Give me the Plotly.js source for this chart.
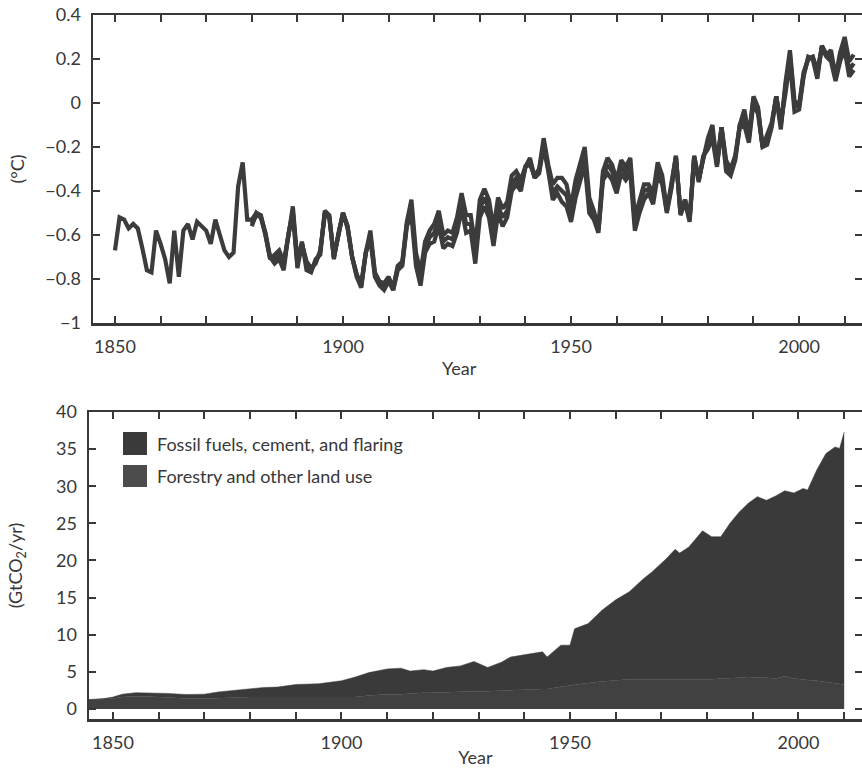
<!DOCTYPE html>
<html>
<head>
<meta charset="utf-8">
<script src="https://cdn.plot.ly/plotly-3.0.1.min.js"></script>
<style>html,body{margin:0;padding:0;background:#fff;}#chart{width:862px;height:769px;}</style>
</head>
<body>
<div id="chart"></div>
<script>
// ---------- Top panel: temperature anomaly (°C), three datasets ----------
const tempStartA = 1850;
const tempA = [-0.67,-0.52,-0.53,-0.57,-0.55,-0.57,-0.66,-0.76,-0.77,-0.58,
-0.64,-0.71,-0.82,-0.58,-0.79,-0.58,-0.55,-0.62,-0.54,-0.56,
-0.58,-0.64,-0.53,-0.60,-0.67,-0.70,-0.68,-0.38,-0.27,-0.53,
-0.53,-0.50,-0.51,-0.60,-0.71,-0.69,-0.67,-0.72,-0.61,-0.47,
-0.72,-0.63,-0.76,-0.77,-0.71,-0.69,-0.49,-0.51,-0.71,-0.59,
-0.50,-0.56,-0.70,-0.78,-0.82,-0.68,-0.58,-0.77,-0.81,-0.82,
-0.79,-0.84,-0.74,-0.72,-0.54,-0.44,-0.68,-0.77,-0.63,-0.58,
-0.55,-0.49,-0.60,-0.58,-0.59,-0.52,-0.41,-0.51,-0.51,-0.65,
-0.44,-0.39,-0.44,-0.57,-0.43,-0.48,-0.45,-0.33,-0.31,-0.35,
-0.29,-0.28,-0.33,-0.30,-0.16,-0.28,-0.37,-0.34,-0.34,-0.37,
-0.47,-0.35,-0.27,-0.20,-0.43,-0.49,-0.57,-0.31,-0.25,-0.28,
-0.35,-0.26,-0.29,-0.25,-0.52,-0.44,-0.37,-0.37,-0.41,-0.27,
-0.33,-0.49,-0.37,-0.24,-0.51,-0.45,-0.54,-0.25,-0.36,-0.24,
-0.21,-0.16,-0.29,-0.11,-0.31,-0.33,-0.26,-0.11,-0.10,-0.18,
0.00,-0.05,-0.20,-0.15,-0.09,0.03,-0.12,0.09,0.24,0.01,
-0.01,0.14,0.20,0.21,0.15,0.25,0.21,0.19,0.10,0.19,
0.24,0.12,0.15];

const tempStartB = 1880;
const tempB = [-0.56,-0.50,-0.52,-0.59,-0.70,-0.73,-0.71,-0.76,-0.60,-0.50,
-0.75,-0.64,-0.72,-0.75,-0.73,-0.67,-0.51,-0.52,-0.70,-0.59,
-0.50,-0.57,-0.70,-0.79,-0.84,-0.68,-0.62,-0.79,-0.83,-0.85,
-0.81,-0.85,-0.76,-0.74,-0.56,-0.51,-0.74,-0.83,-0.68,-0.64,
-0.63,-0.56,-0.66,-0.64,-0.65,-0.59,-0.48,-0.59,-0.58,-0.73,
-0.52,-0.47,-0.52,-0.65,-0.50,-0.56,-0.52,-0.40,-0.37,-0.40,
-0.29,-0.25,-0.34,-0.32,-0.20,-0.31,-0.44,-0.41,-0.45,-0.47,
-0.54,-0.43,-0.35,-0.28,-0.50,-0.53,-0.59,-0.35,-0.32,-0.35,
-0.41,-0.32,-0.35,-0.32,-0.58,-0.50,-0.44,-0.41,-0.46,-0.33,
-0.37,-0.50,-0.39,-0.25,-0.50,-0.44,-0.53,-0.24,-0.35,-0.25,
-0.16,-0.10,-0.28,-0.11,-0.26,-0.30,-0.24,-0.10,-0.03,-0.15,
0.03,-0.02,-0.20,-0.19,-0.11,0.03,-0.09,0.04,0.19,-0.04,
-0.03,0.12,0.21,0.20,0.11,0.26,0.22,0.24,0.12,0.23,
0.30,0.19,0.22];

const tempStartC = 1880;
const tempC = [-0.55,-0.51,-0.52,-0.60,-0.70,-0.71,-0.69,-0.74,-0.60,-0.49,
-0.73,-0.64,-0.73,-0.76,-0.72,-0.68,-0.50,-0.52,-0.70,-0.59,
-0.50,-0.56,-0.70,-0.78,-0.83,-0.68,-0.60,-0.78,-0.82,-0.84,
-0.80,-0.85,-0.75,-0.73,-0.55,-0.48,-0.71,-0.80,-0.66,-0.61,
-0.59,-0.53,-0.63,-0.61,-0.62,-0.56,-0.45,-0.55,-0.55,-0.69,
-0.48,-0.43,-0.48,-0.61,-0.47,-0.52,-0.49,-0.37,-0.34,-0.38,
-0.29,-0.26,-0.34,-0.31,-0.18,-0.30,-0.41,-0.38,-0.40,-0.42,
-0.51,-0.39,-0.31,-0.24,-0.47,-0.51,-0.58,-0.33,-0.28,-0.31,
-0.38,-0.29,-0.32,-0.28,-0.55,-0.47,-0.40,-0.39,-0.43,-0.30,
-0.35,-0.49,-0.38,-0.24,-0.50,-0.44,-0.53,-0.24,-0.35,-0.25,
-0.18,-0.13,-0.28,-0.11,-0.28,-0.31,-0.25,-0.10,-0.07,-0.16,
0.02,-0.03,-0.20,-0.17,-0.10,0.03,-0.10,0.07,0.22,-0.01,
-0.02,0.13,0.20,0.21,0.13,0.26,0.22,0.21,0.11,0.21,
0.27,0.15,0.18];

// ---------- Bottom panel: CO2 emissions (GtCO2/yr) ----------
const co2Years = [1844,1848,1850,1852,1855,1860,1862,1866,1870,1873,1876,1880,1883,1886,1890,1895,1898,
1900,1903,1906,1910,1913,1915,1918,1920,1923,1926,1929,1932,1935,1937,1940,1944,1945,1948,
1950,1951,1954,1957,1960,1963,1966,1968,1971,1973,1974,1976,1979,1981,1983,1985,1987,1989,
1991,1993,1995,1997,1999,2001,2002,2004,2006,2008,2009,2010];
const landUse = [1.2,1.3,1.4,1.6,1.7,1.6,1.5,1.4,1.4,1.5,1.5,1.6,1.6,1.5,1.6,1.5,1.5,
1.5,1.6,1.8,2.0,2.0,2.1,2.2,2.2,2.3,2.3,2.4,2.4,2.5,2.6,2.6,2.7,2.7,3.0,
3.2,3.3,3.5,3.7,3.9,4.0,4.0,4.0,4.0,3.9,3.9,3.9,4.0,4.0,4.1,4.1,4.2,4.3,
4.3,4.2,4.1,4.4,4.1,3.9,3.9,3.8,3.6,3.4,3.3,3.3];
const fossil = [0.05,0.1,0.2,0.4,0.5,0.6,0.6,0.55,0.6,0.8,1.0,1.2,1.3,1.45,1.7,1.9,2.1,
2.3,2.7,3.1,3.4,3.5,3.0,3.1,2.9,3.3,3.5,4.0,3.2,3.8,4.4,4.7,5.0,4.3,5.6,
5.4,7.5,8.0,9.6,10.8,11.8,13.5,14.5,16.2,17.6,17.1,17.9,20.0,19.2,19.1,20.9,22.3,23.4,
24.3,23.9,24.6,25.0,25.0,25.8,25.6,28.4,30.8,31.9,31.8,34.0];

const seriesNames = ['Fossil fuels, cement, and flaring', 'Forestry and other land use'];
const seriesColors = ['#3a3a3a', '#414141'];
const legendColors = ['#3a3a3a', '#4c4c4c'];

// ---------- Axis ticks ----------
const yearTickVals = [1850,1860,1870,1880,1890,1900,1910,1920,1930,1940,1950,1960,1970,1980,1990,2000,2010];
const yearTickText = ['1850','','','','','1900','','','','','1950','','','','','2000',''];

function yearsFrom(start, n){ const out=[]; for(let i=0;i<n;i++) out.push(start+i); return out; }

const W = 862, H = 769;
const px = v => v / W;
const py = v => 1 - v / H;

const ink = '#383838';
const fontFam = 'Lato, "Noto Sans", sans-serif';
const tickFont = {family: fontFam, size: 18, color: ink};

const lineStyle = {color: '#3c3c3c', width: 4.2};

const traces = [
  {x: yearsFrom(tempStartA, tempA.length), y: tempA, type: 'scatter', mode: 'lines', line: lineStyle, xaxis: 'x', yaxis: 'y', name: 'Dataset 1', showlegend: false},
  {x: yearsFrom(tempStartB, tempB.length), y: tempB, type: 'scatter', mode: 'lines', line: lineStyle, xaxis: 'x', yaxis: 'y', name: 'Dataset 2', showlegend: false},
  {x: yearsFrom(tempStartC, tempC.length), y: tempC, type: 'scatter', mode: 'lines', line: lineStyle, xaxis: 'x', yaxis: 'y', name: 'Dataset 3', showlegend: false},
  {x: co2Years, y: landUse, type: 'scatter', mode: 'lines', stackgroup: 'co2', fillcolor: seriesColors[1], line: {width: 0.5, color: seriesColors[1]}, xaxis: 'x2', yaxis: 'y2', name: seriesNames[1], showlegend: false},
  {x: co2Years, y: fossil, type: 'scatter', mode: 'lines', stackgroup: 'co2', fillcolor: seriesColors[0], line: {width: 0.5, color: seriesColors[0]}, xaxis: 'x2', yaxis: 'y2', name: seriesNames[0], showlegend: false}
];

const axisCommon = {
  showline: true, linewidth: 2.5, linecolor: ink, mirror: 'ticks',
  ticks: 'inside', ticklen: 7, tickwidth: 2, tickcolor: ink,
  showgrid: false, zeroline: false, tickfont: tickFont, automargin: false
};

const layout = {
  width: W, height: H,
  margin: {l: 0, r: 0, t: 0, b: 0},
  paper_bgcolor: '#fff', plot_bgcolor: '#fff',
  font: {family: fontFam, color: ink},
  showlegend: false,
  xaxis: Object.assign({}, axisCommon, {
    domain: [px(93), 1], anchor: 'y', range: [1845.18, 2013.8],
    tickmode: 'array', tickvals: yearTickVals, ticktext: yearTickText, ticklabelstandoff: 6
  }),
  yaxis: Object.assign({}, axisCommon, {
    domain: [py(323), py(15)], anchor: 'x', range: [-1, 0.4], tick0: 0, dtick: 0.2,
    ticklabelstandoff: 6,
    title: {text: '(°C)', font: {family: fontFam, size: 18, color: ink}, standoff: 16}
  }),
  xaxis2: Object.assign({}, axisCommon, {
    domain: [px(89), 1], anchor: 'y2', range: [1844.75, 2013.9],
    tickmode: 'array', tickvals: yearTickVals, ticktext: yearTickText, ticklabelstandoff: 6,
    title: {text: 'Year', font: {family: fontFam, size: 18, color: ink}, standoff: 0}
  }),
  yaxis2: Object.assign({}, axisCommon, {
    domain: [py(719), py(412)], anchor: 'x2', range: [-1.35, 40], tick0: 0, dtick: 5,
    ticklabelstandoff: 6,
    title: {text: '(GtCO<sub>2</sub>/yr)', font: {family: fontFam, size: 18, color: ink}, standoff: 29}
  }),
  shapes: [
    {type: 'rect', xref: 'paper', yref: 'paper', x0: px(123), x1: px(147), y0: py(455), y1: py(432), fillcolor: legendColors[0], line: {width: 0}},
    {type: 'rect', xref: 'paper', yref: 'paper', x0: px(123), x1: px(147), y0: py(487), y1: py(465), fillcolor: legendColors[1], line: {width: 0}}
  ],
  annotations: [
    {text: 'Year', xref: 'paper', yref: 'paper', x: px(460), y: py(368), xanchor: 'center', yanchor: 'middle', showarrow: false, font: {family: fontFam, size: 18, color: ink}},
    {text: seriesNames[0], xref: 'paper', yref: 'paper', x: px(155), y: py(444), xanchor: 'left', yanchor: 'middle', showarrow: false, font: {family: fontFam, size: 18, color: ink}},
    {text: seriesNames[1], xref: 'paper', yref: 'paper', x: px(155), y: py(476), xanchor: 'left', yanchor: 'middle', showarrow: false, font: {family: fontFam, size: 18, color: ink}}
  ]
};

Plotly.newPlot('chart', traces, layout, {staticPlot: true, displayModeBar: false});
</script>
</body>
</html>
